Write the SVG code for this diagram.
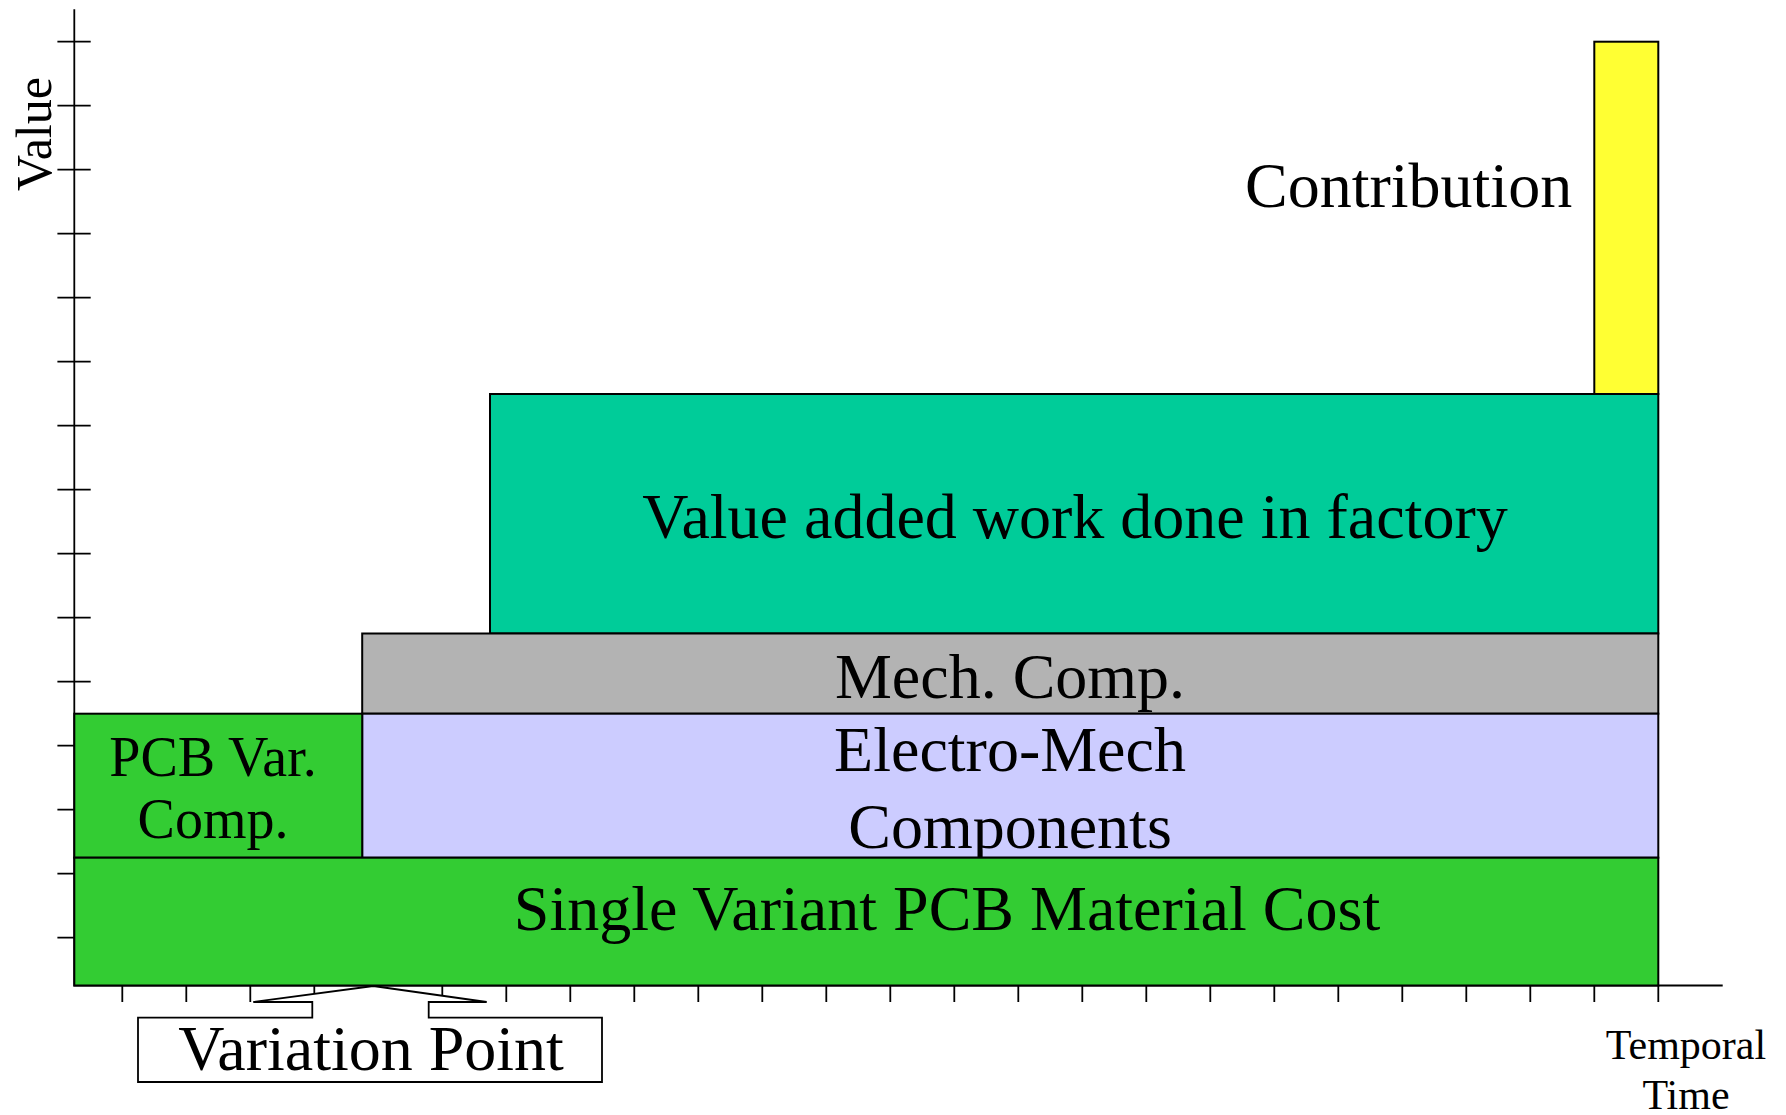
<svg xmlns="http://www.w3.org/2000/svg" width="1786" height="1115" viewBox="0 0 1786 1115">
<style>
text{font-family:"Liberation Serif","Times New Roman",serif;fill:#000}
.lbl{font-size:64px;text-anchor:middle}
.bar{stroke:#000;stroke-width:2}
.ax{stroke:#000;stroke-width:1.8;fill:none}
</style>
<defs>
<path id="ytick" d="M57.4,0H90.7" class="ax"/>
<path id="xtick" d="M0,985.5V1002" class="ax"/>
</defs>
<rect width="1786" height="1115" fill="#fff"/>
<g id="axes">
<path class="ax" d="M74.3,9.3V985.5H1722.7"/>
<g id="y-ticks">
<use href="#ytick" y="41.7"/><use href="#ytick" y="105.7"/><use href="#ytick" y="169.7"/><use href="#ytick" y="233.7"/><use href="#ytick" y="297.7"/><use href="#ytick" y="361.7"/><use href="#ytick" y="425.7"/><use href="#ytick" y="489.7"/><use href="#ytick" y="553.7"/><use href="#ytick" y="617.7"/><use href="#ytick" y="681.7"/><use href="#ytick" y="745.7"/><use href="#ytick" y="809.7"/><use href="#ytick" y="873.7"/><use href="#ytick" y="937.7"/>
</g>
<g id="x-ticks">
<use href="#xtick" x="122.3"/><use href="#xtick" x="186.3"/><use href="#xtick" x="250.3"/><use href="#xtick" x="314.3"/><use href="#xtick" x="378.3"/><use href="#xtick" x="442.3"/><use href="#xtick" x="506.3"/><use href="#xtick" x="570.3"/><use href="#xtick" x="634.3"/><use href="#xtick" x="698.3"/><use href="#xtick" x="762.3"/><use href="#xtick" x="826.3"/><use href="#xtick" x="890.3"/><use href="#xtick" x="954.3"/><use href="#xtick" x="1018.3"/><use href="#xtick" x="1082.3"/><use href="#xtick" x="1146.3"/><use href="#xtick" x="1210.3"/><use href="#xtick" x="1274.3"/><use href="#xtick" x="1338.3"/><use href="#xtick" x="1402.3"/><use href="#xtick" x="1466.3"/><use href="#xtick" x="1530.3"/><use href="#xtick" x="1594.3"/><use href="#xtick" x="1658.3"/>
</g>
<text id="y-label" font-size="50" text-anchor="middle" transform="translate(50.5,134) rotate(-90)">Value</text>
<text id="x-label" font-size="42" text-anchor="middle"><tspan x="1686" y="1059">Temporal</tspan><tspan x="1686" y="1109">Time</tspan></text>
</g>
<g id="contribution">
<rect class="bar" x="1594.3" y="41.7" width="64" height="352.3" fill="#ffff33"/>
<text class="lbl" x="1245" y="207" style="text-anchor:start">Contribution</text>
</g>
<g id="value-added">
<rect class="bar" x="490" y="394" width="1168.3" height="239.5" fill="#00cc99"/>
<text class="lbl" x="1075" y="538">Value added work done in factory</text>
</g>
<g id="mech-comp">
<rect class="bar" x="362.2" y="633.5" width="1296.1" height="80.2" fill="#b3b3b3"/>
<text class="lbl" x="1010" y="698">Mech. Comp.</text>
</g>
<g id="electro-mech">
<rect class="bar" x="362.2" y="713.7" width="1296.1" height="144" fill="#ccccff"/>
<text class="lbl"><tspan x="1010" y="771">Electro-Mech</tspan><tspan x="1010" y="848">Components</tspan></text>
</g>
<g id="pcb-var">
<rect class="bar" x="74.3" y="713.7" width="287.9" height="144" fill="#33cc33"/>
<text font-size="56" text-anchor="middle"><tspan x="213" y="776">PCB Var.</tspan><tspan x="213" y="838">Comp.</tspan></text>
</g>
<g id="single-variant">
<rect class="bar" x="74.3" y="857.7" width="1584" height="127.8" fill="#33cc33"/>
<text class="lbl" x="947" y="930">Single Variant PCB Material Cost</text>
</g>
<g id="connectors">
<g id="variation-point">
<path class="ax" style="fill:#fff" d="M138,1017.7H312.3V1002H253.3L373.3,986L486.7,1002H428.7V1017.7H602V1082H138Z"/>
<text class="lbl" x="371" y="1070">Variation Point</text>
</g>
</g>
</svg>
